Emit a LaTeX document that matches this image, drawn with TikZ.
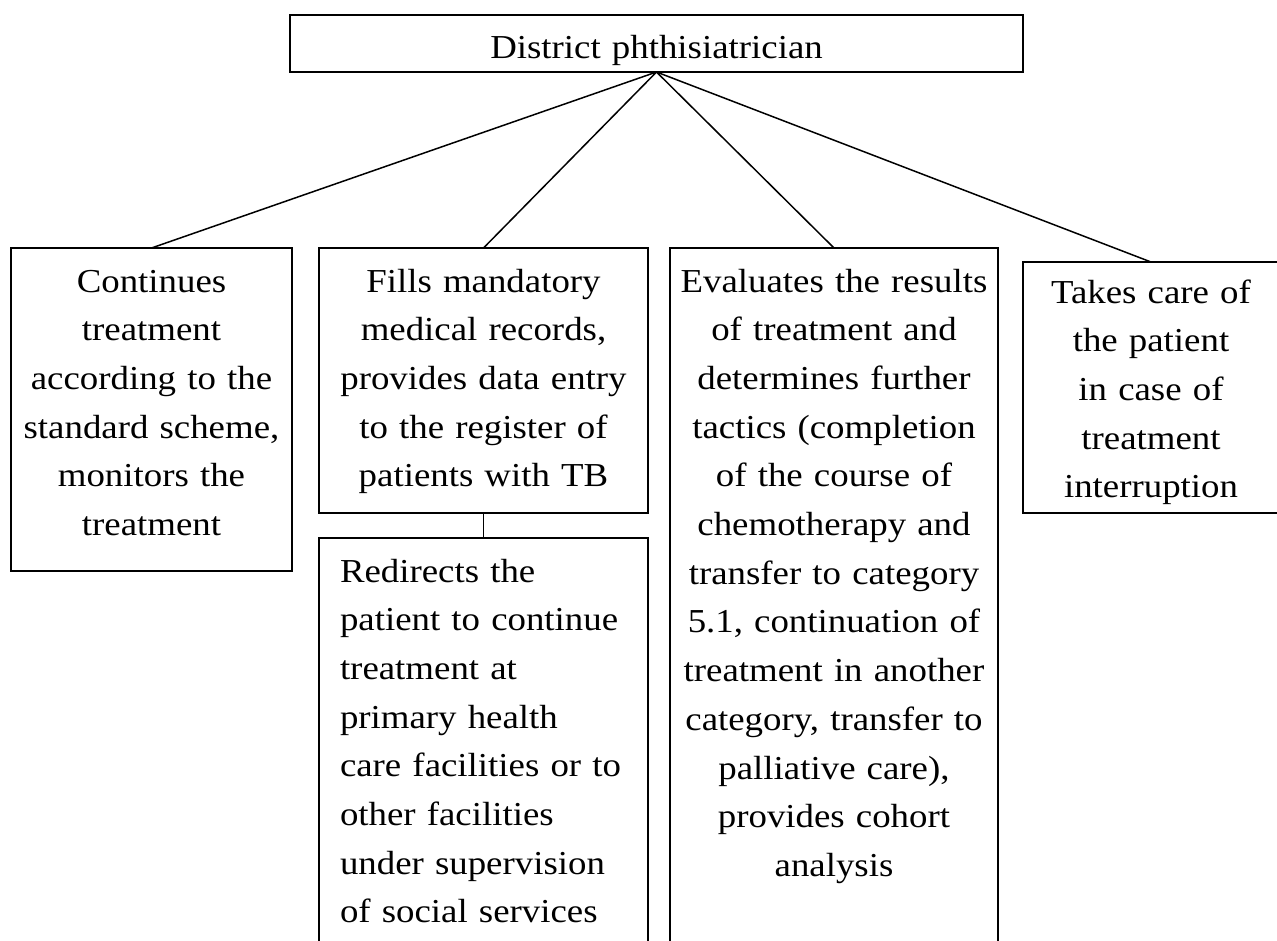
\documentclass[tikz,border=0pt]{standalone}
\usepackage{fontspec}
\setmainfont{Liberation Serif}
\newfontfamily\widefont{Liberation Serif}[FakeStretch=1.1]
\begin{document}
\begin{tikzpicture}[x=1pt,y=-1pt,
    box/.style={draw,line width=1.6pt,inner sep=0pt,outer sep=0pt,anchor=north west,align=center,
        font=\widefont\fontsize{33.5}{48.7}\selectfont},
    link/.style={line width=1.5pt}]
    \useasboundingbox (0,0) rectangle (1277,940);
    \clip (0,0) rectangle (1277,940);
    \node[box,line width=2.2pt,text width=733pt,text height=43pt,text depth=14pt] (dist) at (290,15)
        {District phthisiatrician};
    \node[box,text width=281pt,text height=44pt,text depth=279pt] (cont) at (11,248)
        {Continues\\treatment\\according to the\\standard scheme,\\monitors the\\treatment};
    \node[box,text width=329pt,text height=44pt,text depth=221pt] (fills) at (319,248)
        {Fills mandatory\\medical records,\\provides data entry\\to the register of\\patients with TB};
    \node[box,align=left,inner xsep=21pt,text width=287pt,text height=44pt,text depth=408pt] (redir) at (319,538)
        {Redirects the\\patient to continue\\treatment at\\primary health\\care facilities or to\\other facilities\\under supervision\\of social services};
    \node[box,text width=328pt,text height=44pt,text depth=698pt] (eval) at (670,248)
        {Evaluates the results\\of treatment and\\determines further\\tactics (completion\\of the course of\\chemotherapy and\\transfer to category\\5.1, continuation of\\treatment in another\\category, transfer to\\palliative care),\\provides cohort\\analysis};
    \node[box,text width=256pt,text height=41pt,text depth=210pt] (takes) at (1023,262)
        {Takes care of\\the patient\\in case of\\treatment\\interruption};
    \foreach \b in {cont,fills,eval,takes}
        \draw[link] (dist.south) -- (\b.north);
    \draw[link] (fills.south) -- (redir.north);
\end{tikzpicture}
\end{document}
